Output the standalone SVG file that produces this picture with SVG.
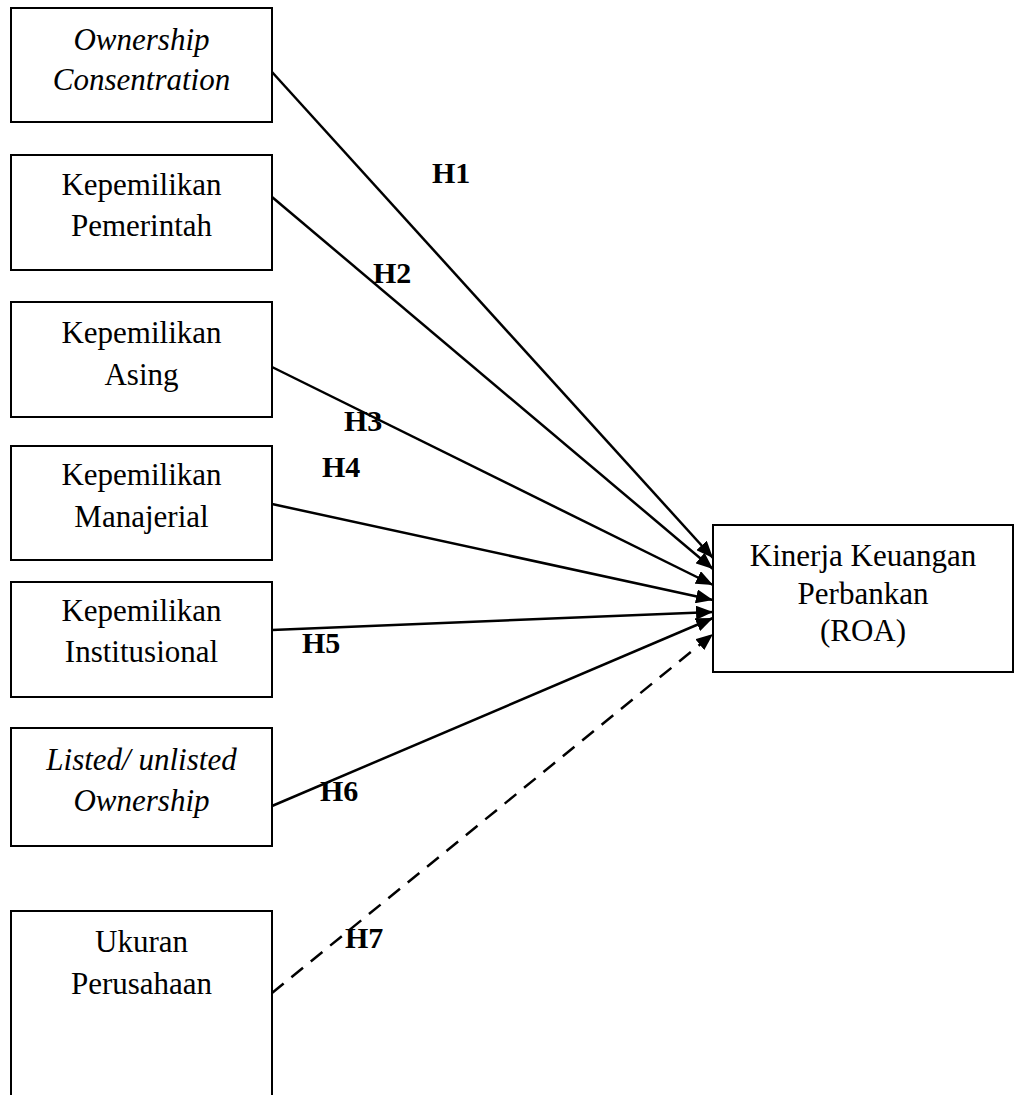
<svg xmlns="http://www.w3.org/2000/svg" width="1015" height="1095" viewBox="0 0 1015 1095">
<defs>
<style>
.box{fill:#fff;stroke:#000;stroke-width:2}
.t{font-family:"Liberation Serif","Times New Roman",serif;font-size:31px;fill:#000;text-anchor:middle}
.i{font-style:italic}
.h{font-family:"Liberation Serif","Times New Roman",serif;font-size:30px;font-weight:bold;fill:#000}
.ln{stroke:#000;stroke-width:2.5;fill:none;marker-end:url(#ah)}
.dash{stroke-dasharray:15 10}
</style>
<marker id="ah" markerUnits="userSpaceOnUse" markerWidth="18" markerHeight="14" refX="17" refY="7" orient="auto">
<path d="M0,0 L17,7 L0,14 z" fill="#000"/>
</marker>
</defs>
<rect width="1015" height="1095" fill="#fff"/>
<g id="connectors">
<line class="ln" x1="272" y1="72" x2="713" y2="558"/>
<line class="ln" x1="272" y1="197" x2="713" y2="569"/>
<line class="ln" x1="272" y1="367" x2="713" y2="585"/>
<line class="ln" x1="272" y1="504" x2="713" y2="600"/>
<line class="ln" x1="272" y1="630" x2="713" y2="612"/>
<line class="ln" x1="272" y1="806" x2="713" y2="618"/>
<line class="ln dash" x1="272" y1="993" x2="713" y2="634"/>
<text class="h" x="432" y="183">H1</text>
<text class="h" x="373" y="283">H2</text>
<text class="h" x="344" y="431">H3</text>
<text class="h" x="322" y="477">H4</text>
<text class="h" x="302" y="653">H5</text>
<text class="h" x="320" y="801">H6</text>
<text class="h" x="345" y="948">H7</text>
</g>
<g id="n1"><rect class="box" x="11" y="8" width="261" height="114"/>
<text class="t i" x="141.5" y="50">Ownership</text><text class="t i" x="141.5" y="90">Consentration</text></g>
<g id="n2"><rect class="box" x="11" y="155" width="261" height="115"/>
<text class="t" x="141.5" y="195">Kepemilikan</text><text class="t" x="141.5" y="236">Pemerintah</text></g>
<g id="n3"><rect class="box" x="11" y="302" width="261" height="115"/>
<text class="t" x="141.5" y="343">Kepemilikan</text><text class="t" x="141.5" y="385">Asing</text></g>
<g id="n4"><rect class="box" x="11" y="446" width="261" height="114"/>
<text class="t" x="141.5" y="485">Kepemilikan</text><text class="t" x="141.5" y="527">Manajerial</text></g>
<g id="n5"><rect class="box" x="11" y="582" width="261" height="115"/>
<text class="t" x="141.5" y="621">Kepemilikan</text><text class="t" x="141.5" y="662">Institusional</text></g>
<g id="n6"><rect class="box" x="11" y="728" width="261" height="118"/>
<text class="t i" x="141.5" y="770">Listed/ unlisted</text><text class="t i" x="141.5" y="811">Ownership</text></g>
<g id="n7"><rect class="box" x="11" y="911" width="261" height="190"/>
<text class="t" x="141.5" y="952">Ukuran</text><text class="t" x="141.5" y="994">Perusahaan</text></g>
<g id="n8"><rect class="box" x="713" y="525" width="300" height="147"/>
<text class="t" x="863" y="566">Kinerja Keuangan</text><text class="t" x="863" y="604">Perbankan</text><text class="t" x="863" y="641">(ROA)</text></g>
</svg>
